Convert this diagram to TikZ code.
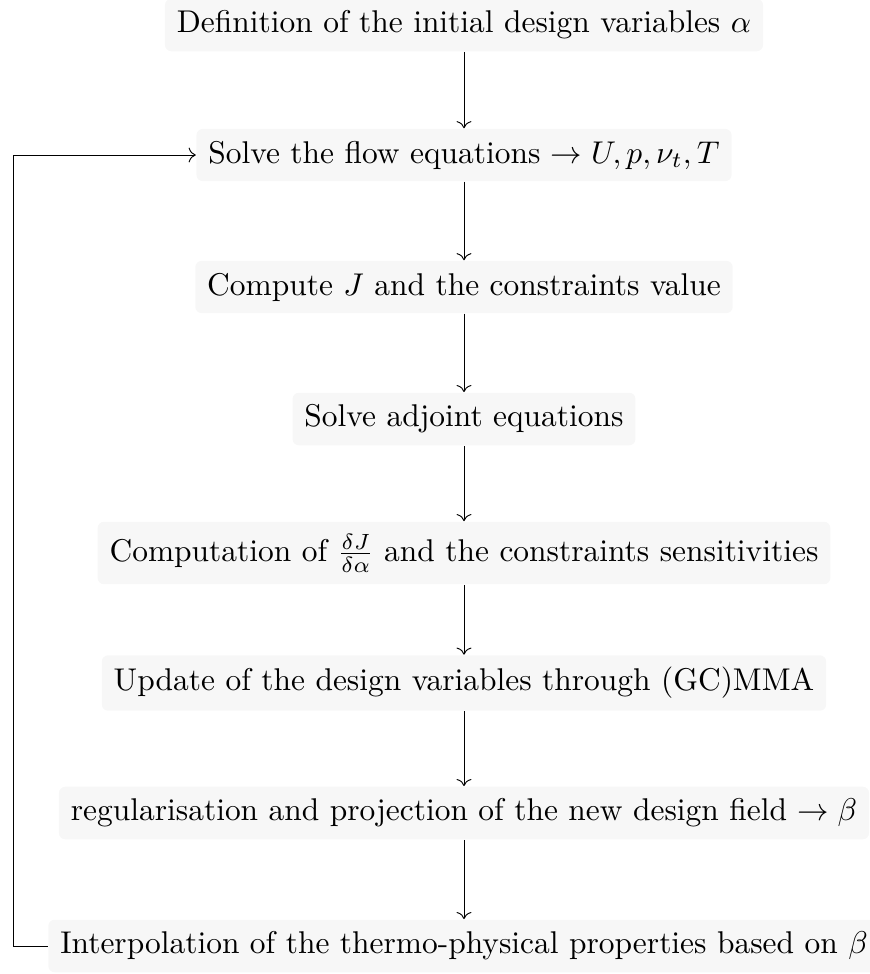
\documentclass[tikz,border=0pt]{standalone}
\usetikzlibrary{arrows.meta}
\definecolor{boxfill}{HTML}{F7F7F7}
\begin{document}
\begin{tikzpicture}[x=0.318pt,y=-0.318pt,
  stepbox/.style={fill=boxfill, rounded corners=2pt, inner sep=3.8pt, anchor=center},
  flow/.style={->, black, line width=0.3pt}]
\useasboundingbox (0,0) rectangle (870,974);
\node[stepbox] (n1) at (464,25) {Definition of the initial design variables $\alpha$};
\node[stepbox] (n2) at (464,155) {Solve the flow equations $\rightarrow U, p, \nu_t, T$};
\node[stepbox] (n3) at (464,287) {Compute $J$ and the constraints value};
\node[stepbox] (n4) at (464,419) {Solve adjoint equations};
\node[stepbox] (n5) at (464,553) {Computation of $\frac{\delta J}{\delta\alpha}$ and the constraints sensitivities};
\node[stepbox] (n6) at (464,683) {Update of the design variables through (GC)MMA};
\node[stepbox] (n7) at (464,813) {regularisation and projection of the new design field $\rightarrow \beta$};
\node[stepbox] (n8) at (464,946) {Interpolation of the thermo-physical properties based on $\beta$};
\coordinate (lb) at (13,946);
\coordinate (lt) at (13,155);
\draw[flow] (n1) -- (n2);
\draw[flow] (n2) -- (n3);
\draw[flow] (n3) -- (n4);
\draw[flow] (n4) -- (n5);
\draw[flow] (n5) -- (n6);
\draw[flow] (n6) -- (n7);
\draw[flow] (n7) -- (n8);
\draw[flow] (n8.west) -- (lb) -- (lt) -- (n2.west);
\end{tikzpicture}
\end{document}
